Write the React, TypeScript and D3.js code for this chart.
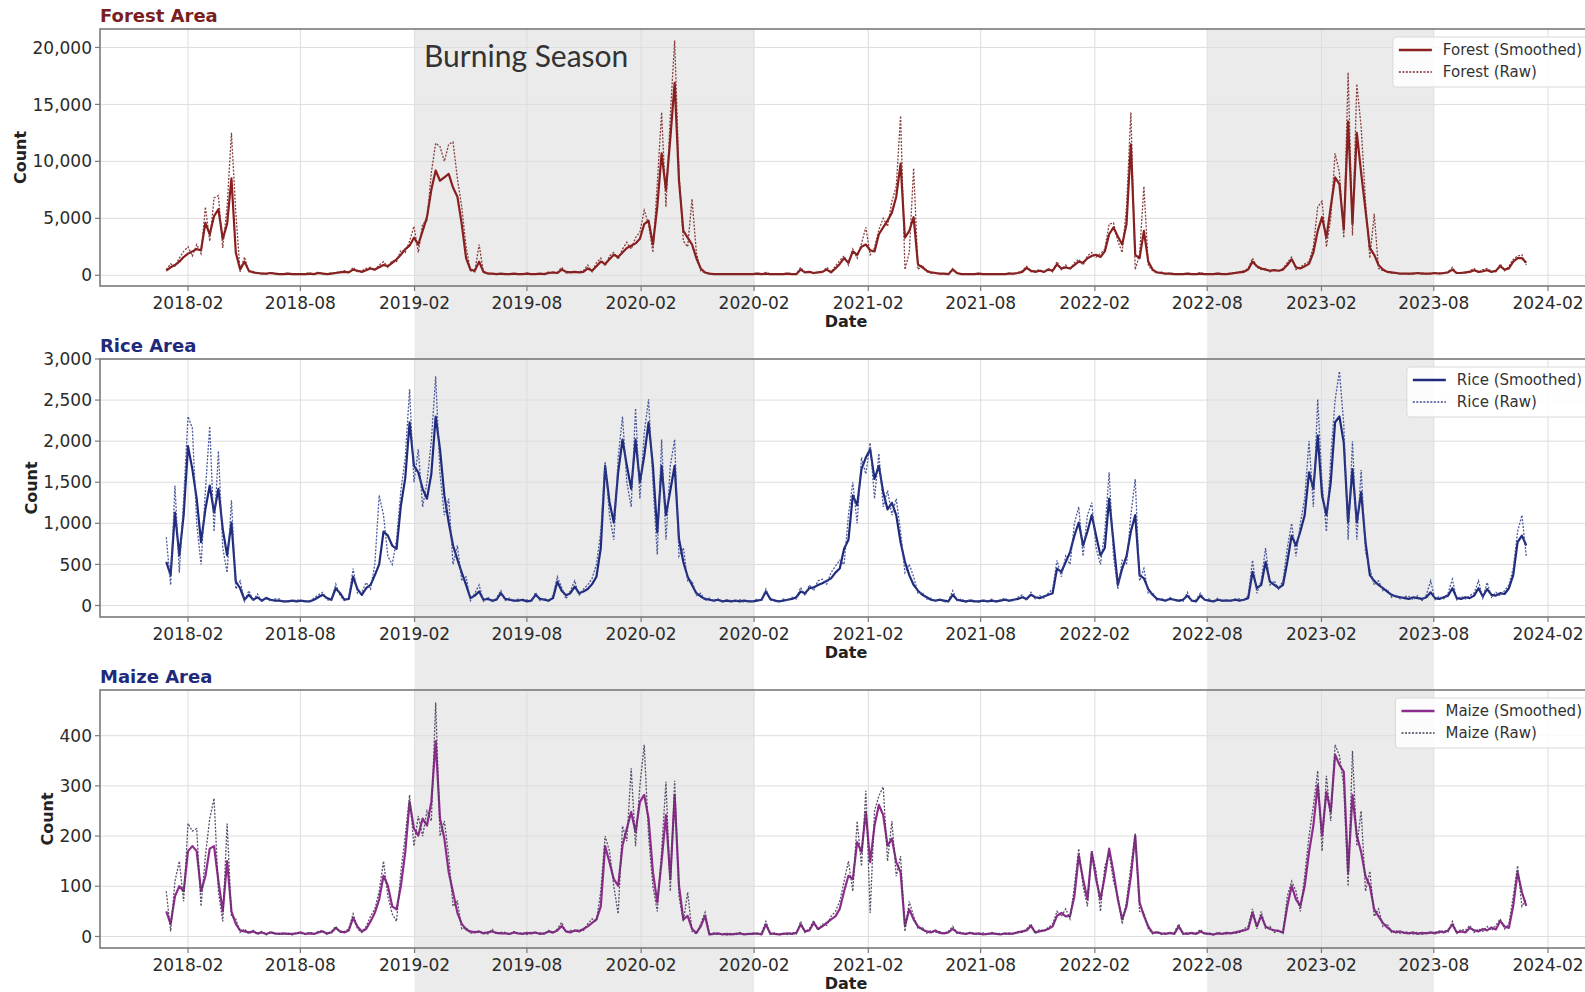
import React, { useEffect, useRef } from "react";
import * as d3 from "d3";

const WIDTH = 1585;
const HEIGHT = 992;

// weekly samples starting on this date
const seriesStart = "2017-12-28";
const stepDays = 7;

const tickDates = [
  "2018-02-01", "2018-08-01", "2019-02-01", "2019-08-01", "2020-02-01", "2020-08-01",
  "2021-02-01", "2021-08-01", "2022-02-01", "2022-08-01", "2023-02-01", "2023-08-01", "2024-02-01",
];
const tickLabels = [
  "2018-02", "2018-08", "2019-02", "2019-08", "2020-02", "2020-02",
  "2021-02", "2021-08", "2022-02", "2022-08", "2023-02", "2023-08", "2024-02",
];

const burningSeasons = [
  ["2019-02-01", "2020-08-01"],
  ["2022-08-01", "2023-08-01"],
];

const forestTicks = [0, 5000, 10000, 15000, 20000];
const riceTicks = [0, 500, 1000, 1500, 2000, 2500, 3000];
const maizeTicks = [0, 100, 200, 300, 400];

const forestSmoothed = [
  400, 700, 900, 1200, 1600, 1900, 2100, 2300, 2200, 4600, 3600, 5200, 5800,
  3200, 4500, 8500, 2000, 500, 1200, 400, 250, 200, 150, 150, 200, 150,
  100, 100, 150, 100, 100, 100, 100, 150, 100, 200, 150, 100, 150,
  200, 250, 300, 250, 500, 400, 300, 450, 600, 500, 700, 900, 800,
  1100, 1400, 1800, 2300, 2600, 3300, 2700, 3900, 5100, 7500, 9200, 8300, 8600,
  8900, 7700, 6900, 4500, 1500, 500, 400, 1200, 300, 150, 150, 100, 150,
  100, 100, 150, 100, 100, 150, 100, 100, 150, 100, 200, 250, 200,
  500, 300, 250, 300, 250, 300, 600, 400, 800, 1200, 1000, 1400, 1800,
  1600, 2000, 2400, 2600, 2800, 3200, 4500, 4800, 2700, 6000, 10700, 7500, 12000,
  16900, 8300, 3900, 3300, 2700, 1500, 600, 250, 150, 100, 100, 100, 100,
  100, 100, 100, 100, 100, 100, 150, 100, 150, 100, 100, 100, 100,
  150, 100, 100, 500, 250, 300, 200, 250, 300, 500, 250, 600, 1000,
  1500, 1100, 2100, 1800, 2500, 2700, 2200, 2100, 3600, 4200, 4800, 5500, 6900,
  9800, 3300, 3900, 5100, 950, 700, 400, 250, 200, 150, 150, 100, 500,
  200, 100, 100, 100, 100, 150, 100, 100, 100, 100, 100, 100, 150,
  150, 200, 300, 650, 400, 300, 400, 300, 500, 400, 950, 600, 700,
  600, 900, 1200, 1100, 1500, 1700, 1800, 1600, 2100, 3600, 4200, 3400, 2700,
  4500, 11500, 1800, 1500, 3900, 1200, 500, 250, 200, 150, 150, 100, 100,
  100, 150, 100, 100, 150, 100, 100, 100, 150, 100, 100, 150, 200,
  250, 300, 500, 1200, 800, 600, 500, 400, 450, 400, 500, 900, 1400,
  700, 600, 800, 1000, 2000, 3900, 5100, 3300, 6000, 8600, 8000, 4000, 13500,
  4500, 12500, 9000, 5700, 2400, 1800, 900, 500, 300, 250, 200, 150, 150,
  150, 150, 200, 150, 150, 150, 200, 150, 200, 250, 500, 200, 200,
  250, 300, 450, 300, 350, 450, 300, 400, 800, 500, 600, 1200, 1500,
  1500, 1100,
];
const forestRaw = [
  500, 1000, 800, 1500, 2100, 2500, 1700, 2700, 1900, 6000, 3000, 6800, 7000,
  2400, 6000, 12500, 5500, 300, 1600, 300, 350, 150, 200, 100, 250, 150,
  150, 100, 200, 100, 150, 100, 150, 200, 100, 300, 150, 100, 200,
  250, 300, 400, 200, 700, 300, 400, 600, 700, 450, 900, 1200, 700,
  1300, 1200, 2200, 2000, 3000, 4300, 2000, 4500, 4800, 9000, 11600, 11300, 10000,
  11500, 11700, 8500, 6000, 2500, 400, 300, 2700, 200, 200, 100, 150, 100,
  150, 100, 100, 150, 100, 200, 100, 150, 100, 150, 300, 200, 250,
  700, 200, 300, 250, 300, 400, 900, 300, 1100, 1500, 800, 1700, 2000,
  1400, 2300, 2900, 2300, 3300, 3800, 5700, 4500, 2000, 8000, 14300, 6000, 14000,
  20600, 9000, 3000, 2500, 6700, 2000, 400, 200, 100, 150, 100, 100, 150,
  100, 150, 100, 100, 100, 100, 200, 100, 250, 100, 100, 150, 100,
  200, 100, 100, 700, 200, 350, 150, 300, 250, 700, 300, 800, 1300,
  1700, 900, 2300, 1500, 2800, 4200, 1800, 2400, 4000, 5000, 4300, 6500, 7800,
  14000, 500, 2000, 9400, 500, 900, 300, 200, 250, 100, 150, 100, 600,
  150, 100, 150, 100, 100, 200, 100, 100, 100, 150, 100, 100, 200,
  100, 250, 400, 800, 300, 400, 500, 250, 600, 300, 1200, 500, 900,
  500, 1100, 1400, 900, 1700, 2000, 1600, 1900, 2300, 4500, 4600, 3000, 2000,
  6000, 14300, 500, 1800, 7800, 900, 400, 200, 300, 100, 200, 100, 100,
  100, 200, 100, 100, 250, 100, 100, 100, 200, 100, 100, 200, 250,
  300, 400, 600, 1500, 700, 500, 600, 300, 500, 350, 600, 1100, 1600,
  500, 700, 1000, 1200, 2500, 6000, 6500, 2500, 5000, 10700, 9000, 3300, 17800,
  3500, 16800, 13000, 6500, 1500, 5400, 600, 400, 300, 200, 250, 100, 200,
  100, 200, 150, 200, 100, 200, 150, 200, 150, 300, 700, 150, 250,
  200, 400, 600, 250, 500, 600, 350, 300, 1000, 400, 800, 1400, 1700,
  1800, 900,
];

const riceSmoothed = [
  530, 370, 1130, 610, 1100, 1940, 1660, 1300, 770, 1170, 1460, 1130, 1420,
  930, 610, 1010, 290, 210, 70, 130, 70, 100, 60, 90, 70, 60,
  60, 50, 50, 60, 50, 60, 50, 50, 70, 100, 130, 90, 70,
  210, 150, 70, 80, 350, 200, 130, 210, 250, 370, 500, 900, 850,
  730, 690, 1220, 1550, 2230, 1700, 1620, 1420, 1300, 1600, 2300, 1900, 1340,
  1010, 730, 560, 400, 250, 90, 120, 170, 70, 80, 60, 70, 150,
  80, 70, 60, 60, 70, 50, 60, 130, 80, 70, 60, 90, 290,
  180, 125, 150, 230, 150, 170, 200, 260, 350, 700, 1700, 1260, 1010,
  1620, 2020, 1700, 1420, 2020, 1500, 1820, 2230, 1700, 890, 1700, 1100, 1400,
  1700, 810, 530, 350, 250, 150, 110, 80, 70, 60, 70, 50, 60,
  50, 60, 50, 60, 50, 50, 60, 70, 170, 80, 60, 50, 60,
  70, 80, 100, 170, 150, 210, 220, 250, 270, 300, 330, 400, 450,
  690, 800, 1340, 1220, 1660, 1800, 1900, 1540, 1700, 1380, 1170, 1250, 1100,
  770, 530, 370, 250, 180, 130, 100, 70, 60, 70, 60, 50, 130,
  70, 60, 50, 60, 50, 50, 60, 50, 60, 50, 60, 70, 60,
  70, 80, 100, 80, 130, 100, 90, 110, 130, 150, 450, 410, 530,
  650, 850, 1010, 730, 900, 1100, 850, 610, 700, 1300, 770, 250, 450,
  600, 900, 1100, 370, 330, 200, 130, 80, 70, 60, 80, 70, 60,
  70, 120, 60, 50, 120, 70, 60, 50, 70, 60, 60, 60, 70,
  60, 70, 90, 410, 210, 250, 530, 290, 250, 210, 250, 530, 850,
  730, 900, 1100, 1620, 1420, 2070, 1340, 1100, 1500, 2230, 2300, 1980, 1010,
  1660, 1010, 1380, 770, 370, 300, 250, 210, 170, 130, 110, 100, 90,
  80, 100, 90, 80, 100, 160, 90, 80, 100, 120, 210, 90, 80,
  100, 90, 120, 210, 110, 200, 130, 120, 150, 140, 210, 370, 770,
  850, 730,
];
const riceRaw = [
  830, 250, 1460, 400, 1300, 2300, 2160, 1000, 500, 1400, 2180, 900, 1880,
  700, 400, 1280, 200, 300, 50, 180, 60, 140, 40, 110, 50, 80,
  80, 40, 60, 50, 70, 50, 60, 40, 90, 130, 160, 70, 60,
  260, 120, 60, 100, 450, 150, 160, 280, 200, 500, 1340, 1100, 600,
  500, 800, 1400, 1800, 2630, 1500, 1900, 1200, 1500, 2000, 2790, 1600, 1100,
  1300, 500, 730, 300, 350, 60, 150, 250, 50, 100, 40, 90, 180,
  60, 90, 50, 80, 50, 70, 40, 160, 60, 90, 50, 120, 350,
  220, 80, 180, 300, 120, 200, 250, 330, 500, 900, 1750, 1100, 800,
  1800, 2300, 1500, 1200, 2400, 1300, 2100, 2510, 1500, 620, 2020, 800, 1700,
  2020, 600, 700, 300, 300, 120, 150, 60, 90, 50, 80, 40, 70,
  60, 50, 70, 40, 60, 50, 80, 60, 200, 60, 70, 40, 80,
  60, 100, 80, 220, 120, 250, 180, 300, 320, 260, 400, 480, 550,
  500, 1100, 1500, 1000, 1800, 1600, 1980, 1300, 1850, 1200, 1400, 1100, 1300,
  900, 400, 500, 350, 150, 160, 80, 90, 50, 80, 40, 60, 180,
  60, 80, 40, 70, 60, 40, 70, 50, 80, 40, 70, 90, 50,
  60, 100, 130, 60, 160, 80, 120, 90, 150, 200, 550, 350, 600,
  500, 1000, 1200, 600, 1100, 1250, 700, 500, 900, 1620, 600, 200, 550,
  500, 1100, 1540, 300, 450, 150, 160, 60, 90, 50, 100, 60, 50,
  50, 160, 50, 70, 150, 60, 80, 40, 90, 50, 70, 50, 80,
  80, 60, 120, 550, 150, 300, 700, 250, 300, 200, 300, 700, 1000,
  600, 1000, 1300, 2000, 1200, 2510, 1500, 900, 1800, 2500, 2850, 2200, 800,
  2000, 800, 1650, 650, 450, 250, 300, 180, 200, 100, 130, 80, 110,
  110, 70, 120, 60, 130, 300, 70, 110, 80, 150, 320, 70, 110,
  80, 120, 150, 300, 90, 280, 100, 160, 120, 180, 250, 450, 900,
  1100, 600,
];

const maizeSmoothed = [
  50, 25, 80, 100, 90, 170, 180, 170, 90, 120, 175, 180, 110,
  50, 150, 50, 25, 12, 10, 8, 10, 6, 8, 5, 8, 6,
  5, 6, 5, 5, 6, 8, 5, 6, 5, 8, 10, 6, 8,
  17, 10, 8, 12, 37, 20, 10, 15, 30, 47, 74, 121, 101,
  60, 54, 101, 168, 268, 215, 201, 235, 221, 268, 389, 235, 195,
  128, 88, 47, 25, 14, 10, 8, 10, 6, 8, 10, 7, 6,
  6, 5, 8, 6, 5, 7, 6, 8, 5, 6, 10, 8, 12,
  21, 10, 8, 12, 10, 15, 20, 27, 34, 60, 180, 148, 114,
  101, 181, 215, 248, 208, 268, 282, 235, 128, 68, 150, 242, 114,
  282, 101, 34, 41, 15, 7, 20, 41, 4, 5, 6, 4, 5,
  4, 5, 6, 4, 5, 5, 6, 4, 24, 6, 5, 4, 5,
  6, 5, 7, 24, 10, 12, 27, 15, 20, 27, 34, 40, 55,
  90, 121, 114, 188, 168, 248, 148, 221, 262, 242, 181, 195, 148,
  128, 21, 54, 34, 20, 14, 10, 8, 12, 7, 6, 8, 15,
  8, 6, 5, 7, 5, 6, 4, 5, 6, 5, 4, 6, 5,
  6, 8, 10, 12, 21, 8, 10, 12, 15, 20, 41, 47, 40,
  41, 80, 161, 114, 74, 168, 114, 74, 120, 175, 128, 74, 34,
  60, 120, 201, 68, 41, 20, 7, 8, 6, 5, 7, 5, 20,
  6, 5, 7, 5, 10, 6, 5, 4, 6, 5, 7, 6, 8,
  10, 12, 15, 47, 20, 41, 20, 15, 12, 11, 8, 60, 101,
  74, 61, 100, 168, 221, 302, 201, 288, 248, 362, 342, 328, 128,
  282, 201, 168, 120, 101, 54, 40, 27, 18, 11, 8, 10, 7,
  6, 8, 5, 7, 6, 8, 6, 10, 8, 12, 24, 8, 10,
  8, 17, 12, 10, 15, 12, 18, 14, 31, 20, 17, 61, 128,
  88, 61,
];
const maizeRaw = [
  90, 10, 110, 150, 70, 225, 210, 215, 60, 160, 235, 275, 90,
  30, 225, 40, 35, 8, 15, 5, 12, 4, 10, 3, 10, 5,
  6, 4, 7, 3, 8, 6, 4, 9, 5, 10, 12, 4, 10,
  20, 8, 10, 15, 45, 15, 8, 20, 40, 55, 90, 150, 80,
  45, 30, 130, 200, 282, 180, 240, 200, 250, 230, 466, 200, 230,
  160, 60, 70, 15, 18, 6, 10, 8, 9, 5, 14, 5, 8,
  8, 4, 10, 5, 7, 4, 9, 6, 7, 5, 12, 6, 15,
  28, 8, 12, 10, 14, 12, 25, 35, 30, 90, 200, 170, 100,
  45, 220, 190, 335, 180, 300, 382, 200, 100, 50, 170, 308, 90,
  310, 80, 30, 88, 10, 5, 25, 48, 3, 7, 4, 6, 3,
  6, 3, 8, 5, 4, 7, 5, 6, 30, 4, 7, 3, 6,
  4, 8, 5, 30, 8, 15, 32, 12, 25, 22, 40, 50, 70,
  110, 150, 90, 230, 140, 290, 47, 250, 280, 298, 150, 230, 120,
  160, 10, 70, 40, 15, 18, 6, 12, 8, 10, 5, 10, 20,
  6, 9, 4, 8, 6, 4, 7, 3, 8, 5, 6, 4, 7,
  4, 10, 8, 15, 25, 6, 14, 10, 18, 25, 50, 40, 55,
  35, 100, 175, 100, 60, 170, 130, 50, 140, 165, 110, 80, 25,
  70, 140, 205, 50, 48, 15, 5, 10, 4, 7, 5, 8, 25,
  4, 8, 5, 6, 14, 4, 7, 3, 8, 6, 5, 8, 6,
  8, 15, 20, 55, 15, 50, 15, 20, 8, 12, 6, 80, 110,
  90, 50, 120, 200, 260, 330, 170, 320, 230, 382, 360, 300, 100,
  370, 180, 250, 90, 130, 40, 55, 20, 25, 8, 12, 6, 9,
  8, 5, 9, 4, 8, 6, 9, 7, 12, 9, 30, 6, 14,
  12, 22, 8, 15, 10, 20, 12, 22, 35, 15, 25, 80, 141,
  60, 75,
];

const panels = [
  {
    title: "Forest Area", name: "Forest", titleColor: "#7a1e1e",
    smoothColor: "#8b1e1e", rawColor: "#7a2a2a",
    smoothed: forestSmoothed, raw: forestRaw, yTicks: forestTicks,
    yDomain: [-940, 21620], top: 29, bottom: 286,
  },
  {
    title: "Rice Area", name: "Rice", titleColor: "#1f2a7a",
    smoothColor: "#1f2a7c", rawColor: "#3a4890",
    smoothed: riceSmoothed, raw: riceRaw, yTicks: riceTicks,
    yDomain: [-140, 3000], top: 359, bottom: 617,
  },
  {
    title: "Maize Area", name: "Maize", titleColor: "#1f2a7a",
    smoothColor: "#8e2c8e", rawColor: "#4a3a5a",
    smoothed: maizeSmoothed, raw: maizeRaw, yTicks: maizeTicks,
    yDomain: [-23, 491], top: 690, bottom: 948,
  },
];

const FONT = "'DejaVu Sans', Verdana, sans-serif";

const App = () => {
  const svgRef = useRef<SVGSVGElement>(null);

  useEffect(() => {
    const svg = d3.select(svgRef.current);
    svg.selectAll("*").remove();

    const parse = d3.timeParse("%Y-%m-%d");
    const left = 100;
    const right = 1592;
    const x = d3
      .scaleTime()
      .domain([parse(tickDates[0]), parse(tickDates[tickDates.length - 1])])
      .range([188, 1548]);
    const start = parse(seriesStart);
    const dateAt = (i: number) => d3.timeDay.offset(start, i * stepDays);
    const fmt = d3.format(",");

    // burning season bands, across the whole figure
    svg
      .selectAll("rect.season")
      .data(burningSeasons)
      .join("rect")
      .attr("class", "season")
      .attr("x", (d) => x(parse(d[0])))
      .attr("width", (d) => x(parse(d[1])) - x(parse(d[0])))
      .attr("y", 29)
      .attr("height", HEIGHT - 29)
      .attr("fill", "#ebebeb");

    panels.forEach((p, k) => {
      const y = d3.scaleLinear().domain(p.yDomain).range([p.bottom, p.top]);
      const g = svg.append("g");

      // grid
      g.selectAll("line.hg")
        .data(p.yTicks)
        .join("line")
        .attr("x1", left).attr("x2", right)
        .attr("y1", (d) => y(d)).attr("y2", (d) => y(d))
        .attr("stroke", "#dddddd").attr("stroke-width", 1);
      g.selectAll("line.vg")
        .data(tickDates)
        .join("line")
        .attr("x1", (d) => x(parse(d))).attr("x2", (d) => x(parse(d)))
        .attr("y1", p.top).attr("y2", p.bottom)
        .attr("stroke", "#dddddd").attr("stroke-width", 1);

      // lines
      const clipId = `plot-clip-${k}`;
      svg.append("clipPath").attr("id", clipId)
        .append("rect")
        .attr("x", left).attr("y", p.top)
        .attr("width", right - left).attr("height", p.bottom - p.top);

      const line = d3
        .line<number>()
        .x((_, i) => x(dateAt(i)))
        .y((d) => y(d));

      g.append("path")
        .datum(p.smoothed)
        .attr("d", line)
        .attr("fill", "none")
        .attr("stroke", p.smoothColor)
        .attr("stroke-width", 2.2)
        .attr("stroke-linejoin", "round")
        .attr("clip-path", `url(#${clipId})`);
      g.append("path")
        .datum(p.raw)
        .attr("d", line)
        .attr("fill", "none")
        .attr("stroke", p.rawColor)
        .attr("stroke-width", 1.3)
        .attr("stroke-dasharray", "2,1.5")
        .attr("opacity", 0.9)
        .attr("clip-path", `url(#${clipId})`);

      // frame
      g.append("rect")
        .attr("x", left).attr("y", p.top)
        .attr("width", right - left).attr("height", p.bottom - p.top)
        .attr("fill", "none")
        .attr("stroke", "#7a7a7a")
        .attr("stroke-width", 1.6);

      // y ticks
      g.selectAll("line.yt")
        .data(p.yTicks)
        .join("line")
        .attr("x1", left - 5).attr("x2", left)
        .attr("y1", (d) => y(d)).attr("y2", (d) => y(d))
        .attr("stroke", "#7a7a7a").attr("stroke-width", 1.2);
      const yLabels = g
        .selectAll("text.yl")
        .data(p.yTicks)
        .join("text")
        .attr("x", left - 8)
        .attr("y", (d) => y(d))
        .attr("dy", "0.36em")
        .attr("text-anchor", "end")
        .style("font-family", FONT)
        .style("font-size", "17px")
        .style("fill", "#2b2b2b")
        .text((d) => fmt(d));
      const maxW = d3.max(yLabels.nodes(), (n: any) => n.getComputedTextLength()) || 0;

      // x ticks
      g.selectAll("line.xt")
        .data(tickDates)
        .join("line")
        .attr("x1", (d) => x(parse(d))).attr("x2", (d) => x(parse(d)))
        .attr("y1", p.bottom).attr("y2", p.bottom + 5)
        .attr("stroke", "#7a7a7a").attr("stroke-width", 1.2);
      g.selectAll("text.xl")
        .data(tickDates)
        .join("text")
        .attr("x", (d) => x(parse(d)))
        .attr("y", p.bottom + 23)
        .attr("text-anchor", "middle")
        .style("font-family", FONT)
        .style("font-size", "17px")
        .style("fill", "#2b2b2b")
        .text((_, i) => tickLabels[i]);

      // axis titles
      g.append("text")
        .attr("x", (left + right) / 2)
        .attr("y", p.bottom + 41)
        .attr("text-anchor", "middle")
        .style("font-family", FONT)
        .style("font-size", "16px")
        .style("font-weight", "bold")
        .style("fill", "#222")
        .text("Date");
      const cy = (p.top + p.bottom) / 2;
      const cx = left - 8 - maxW - 12;
      g.append("text")
        .attr("transform", `translate(${cx},${cy}) rotate(-90)`)
        .attr("text-anchor", "middle")
        .attr("dy", "0.36em")
        .style("font-family", FONT)
        .style("font-size", "16px")
        .style("font-weight", "bold")
        .style("fill", "#222")
        .text("Count");

      // panel title
      g.append("text")
        .attr("x", left)
        .attr("y", p.top - 7)
        .style("font-family", FONT)
        .style("font-size", "18px")
        .style("font-weight", "bold")
        .style("fill", p.titleColor)
        .text(p.title);

      // legend
      const lg = g.append("g");
      const rows = [
        { label: `${p.name} (Smoothed)`, color: p.smoothColor, dash: null, w: 2.4 },
        { label: `${p.name} (Raw)`, color: p.rawColor, dash: "2,1.5", w: 1.3 },
      ];
      const rowY = [p.top + 21, p.top + 43];
      const boxRight = 1590;
      const texts = lg
        .selectAll("text")
        .data(rows)
        .join("text")
        .attr("y", (_, i) => rowY[i])
        .attr("dy", "0.36em")
        .style("font-family", FONT)
        .style("font-size", "15px")
        .style("fill", "#333")
        .text((d) => d.label);
      const tw = d3.max(texts.nodes(), (n: any) => n.getComputedTextLength()) || 0;
      const textX = boxRight - 8 - tw;
      const boxLeft = textX - 50;
      texts.attr("x", textX);
      lg.insert("rect", ":first-child")
        .attr("x", boxLeft)
        .attr("y", p.top + 8)
        .attr("width", boxRight - boxLeft + 10)
        .attr("height", 50)
        .attr("rx", 3)
        .attr("fill", "#ffffff")
        .attr("fill-opacity", 0.85)
        .attr("stroke", "#d8d8d8");
      lg.selectAll("line")
        .data(rows)
        .join("line")
        .attr("x1", boxLeft + 6)
        .attr("x2", boxLeft + 39)
        .attr("y1", (_, i) => rowY[i])
        .attr("y2", (_, i) => rowY[i])
        .attr("stroke", (d) => d.color)
        .attr("stroke-width", (d) => d.w)
        .attr("stroke-dasharray", (d) => d.dash);
    });

    // annotation
    svg.append("text")
      .attr("x", 424)
      .attr("y", 67)
      .style("font-family", "Lato, 'Open Sans', sans-serif")
      .style("font-size", "30px")
      .style("fill", "#333")
      .text("Burning Season");
  }, []);

  return (
    <svg
      ref={svgRef}
      width={WIDTH}
      height={HEIGHT}
      style={{ position: "absolute", left: 0, top: 0, background: "#fff" }}
    />
  );
};

export default App;
